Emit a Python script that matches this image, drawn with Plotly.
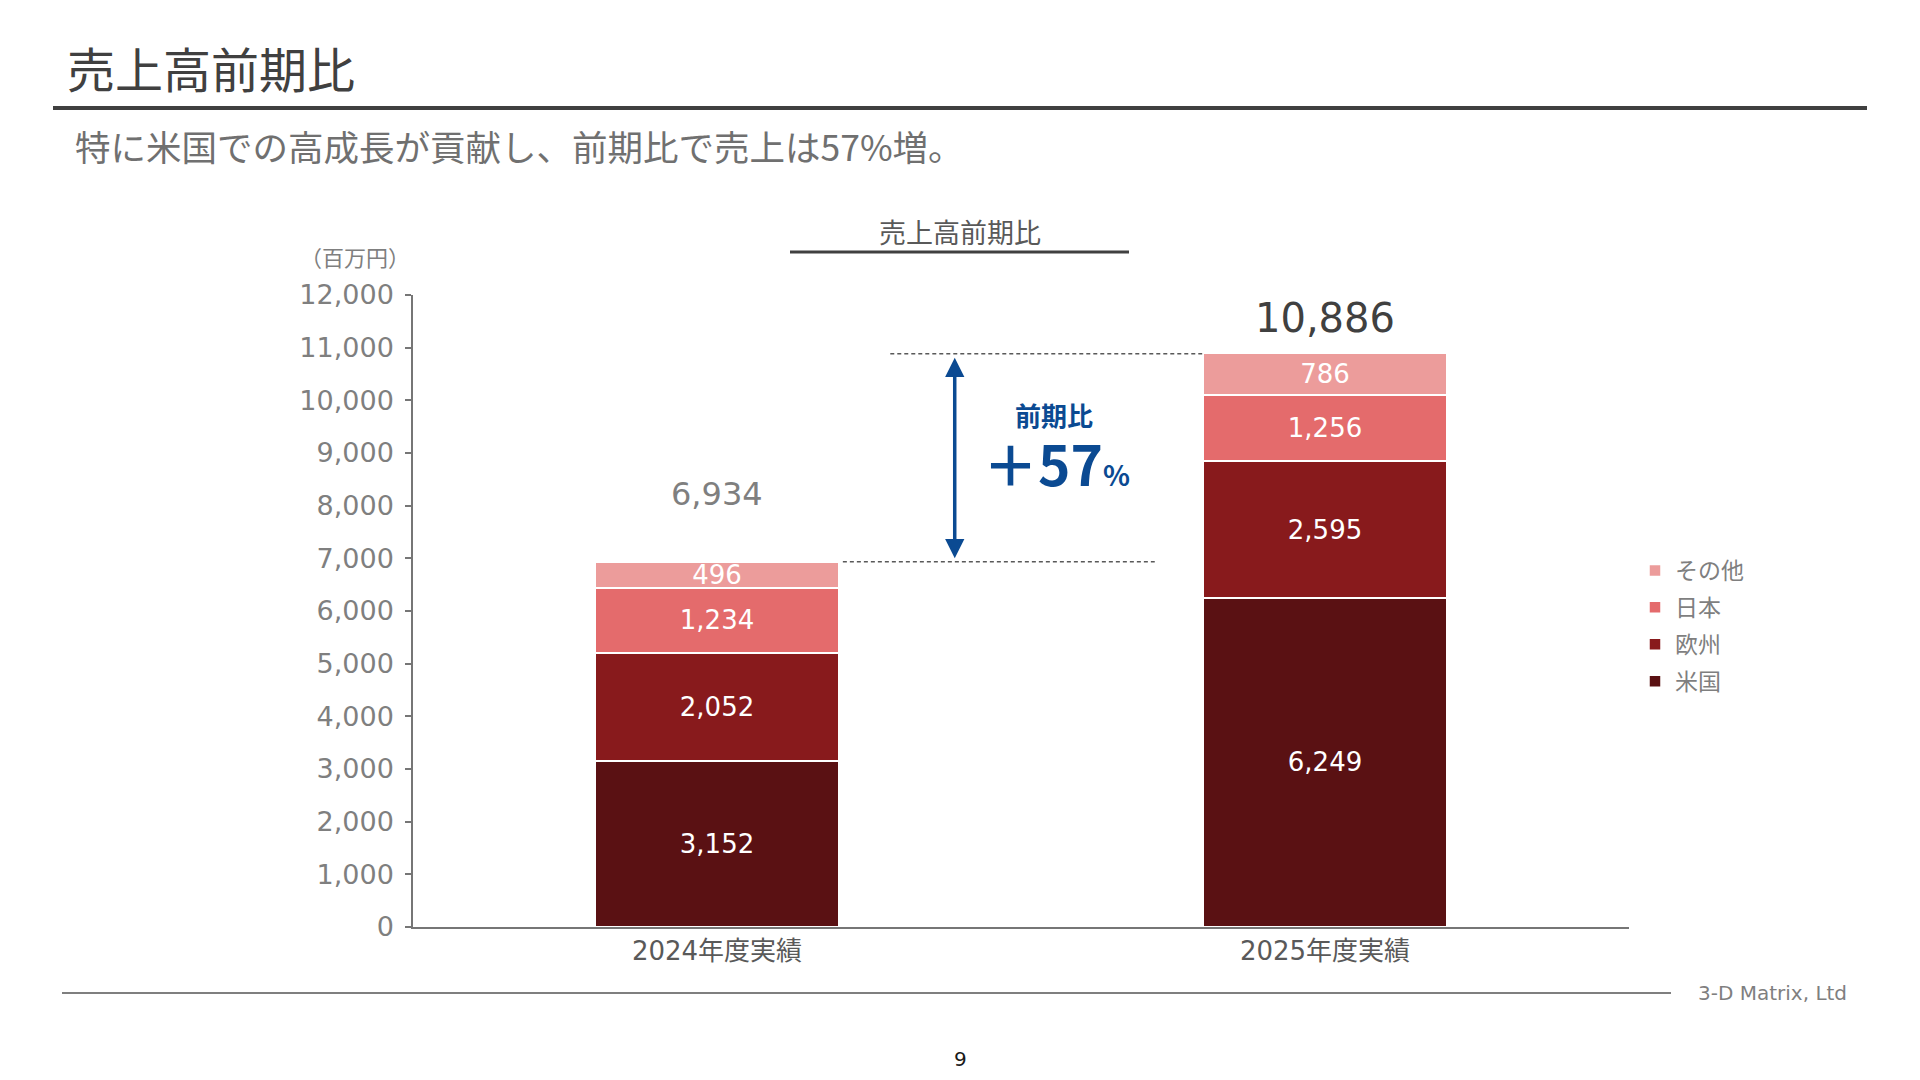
import plotly.graph_objects as go

categories = ["2024年度実績", "2025年度実績"]
series_names = ["米国", "欧州", "日本", "その他"]
us = [3152, 6249]
eu = [2052, 2595]
jp = [1234, 1256]
other = [496, 786]
colors = ["#5a1113", "#881a1c", "#e46b6c", "#ec9c9b"]
y_ticks = list(range(0, 12001, 1000))

series_values = [us, eu, jp, other]
totals = [sum(v) for v in zip(us, eu, jp, other)]
pct = round((totals[1] / totals[0] - 1) * 100)

NUM = "DejaVu Sans, Noto Sans CJK JP"
JP = "Noto Sans CJK JP"
OFF = 8  # page body margin
W, H = 1920 - 2 * OFF, 1080 - 2 * OFF
L, R, T, B = 413, 1629, 295, 927  # plot area in page pixels


def px(x):
    return (x - L) / (R - L)


def py(y):
    return (B - y) / (B - T)


fig = go.Figure()
n = len(series_names)
for i, (name, vals, col) in enumerate(zip(series_names, series_values, colors)):
    fig.add_trace(go.Bar(
        x=categories, y=vals, name=name, legendgroup=name, legendrank=1000 - i,
        marker=dict(color=col, line=dict(color="white", width=1.5)),
        width=0.4,
        texttemplate="%{y:,}", textposition="inside", insidetextanchor="middle",
        textangle=0,
        textfont=dict(family=NUM, size=26, color="white"),
    ))

ann = []
total_style = [dict(size=32, color="#7f7f7f", shift=68), dict(size=40, color="#404040", shift=36)]
for c, t, st in zip(categories, totals, total_style):
    ann.append(dict(x=c, y=t, xref="x", yref="y", text=f"{t:,}", showarrow=False,
                    xanchor="center", yanchor="middle",
                    yshift=st["shift"], font=dict(family=NUM, size=st["size"], color=st["color"])))

# arrow
ax_x = 0.391
ann.append(dict(x=ax_x, y=totals[1], xref="x", yref="y", ax=ax_x, ay=totals[0], axref="x", ayref="y",
                showarrow=True, arrowhead=2, arrowside="end+start", arrowsize=1.1, arrowwidth=3.5,
                arrowcolor="#0b4a92", standoff=4, startstandoff=2, text=""))


def label(x, y, text, font, xanchor="center"):
    ann.append(dict(x=px(x), y=py(y), xref="paper", yref="paper", text=text, showarrow=False,
                    xanchor=xanchor, yanchor="middle", font=font))


label(1054, 414, "<b>前期比</b>", dict(family=JP, size=26, color="#0b4a92"))
label(1056, 462, f"<b>＋{pct}<span style='font-size:28px'>%</span></b>",
      dict(family=JP, size=55, color="#0b4a92"))
label(65, 67, "売上高前期比", dict(family=JP, size=48, color="#404040"), "left")
label(73, 145, "特に米国での高成長が貢献し、前期比で売上は57%増。",
      dict(family=JP, size=35.5, color="#707070"), "left")
label(960, 232, "売上高前期比", dict(family=JP, size=27, color="#595959"))
label(355, 256, "（百万円）", dict(family=JP, size=22, color="#7f7f7f"))
label(1696, 993, "3-D Matrix, Ltd", dict(family=NUM, size=20, color="#7f7f7f"), "left")
label(960, 1059, "9", dict(family=NUM, size=20, color="#1a1a1a"))

shapes = [
    dict(type="line", xref="paper", yref="paper", x0=px(53), x1=px(1867), y0=py(108), y1=py(108),
         line=dict(color="#404040", width=4)),
    dict(type="line", xref="paper", yref="paper", x0=px(790), x1=px(1129), y0=py(252), y1=py(252),
         line=dict(color="#404040", width=3)),
    dict(type="line", xref="paper", yref="paper", x0=px(62), x1=px(1671), y0=py(993), y1=py(993),
         line=dict(color="#7f7f7f", width=2)),
    dict(type="line", xref="x", yref="y", x0=0.285, x1=0.798, y0=totals[1], y1=totals[1],
         line=dict(color="#595959", width=1.5, dash="4px,3px")),
    dict(type="line", xref="x", yref="y", x0=0.207, x1=0.72, y0=totals[0], y1=totals[0],
         line=dict(color="#595959", width=1.5, dash="4px,3px")),
]

fig.update_layout(
    width=W, height=H, barmode="stack",
    margin=dict(l=L - OFF, r=(OFF + W) - R, t=T - OFF, b=(OFF + H) - B, pad=0),
    paper_bgcolor="white", plot_bgcolor="white",
    annotations=ann, shapes=shapes,
    uniformtext=dict(minsize=26, mode="show"),
    legend=dict(x=px(1635), y=py(549), xanchor="left", yanchor="top", traceorder="grouped",
                font=dict(family=JP, size=23, color="#7f7f7f"), tracegroupgap=4,
                itemwidth=30, bgcolor="rgba(0,0,0,0)"),
    xaxis=dict(range=[-0.5, 1.5], showline=True, linecolor="#767676", linewidth=1.5,
               ticks="", tickfont=dict(family=NUM, size=26, color="#595959"), showgrid=False),
    yaxis=dict(range=[0, 12000], tickvals=y_ticks, tickformat=",", showline=True, linecolor="#767676",
               linewidth=1.5, ticks="outside", ticklen=6, tickcolor="#767676", tickwidth=1.5,
               ticklabelstandoff=6,
               tickfont=dict(family=NUM, size=27, color="#7f7f7f"), showgrid=False, zeroline=False),
)

fig.write_html("out.html")
